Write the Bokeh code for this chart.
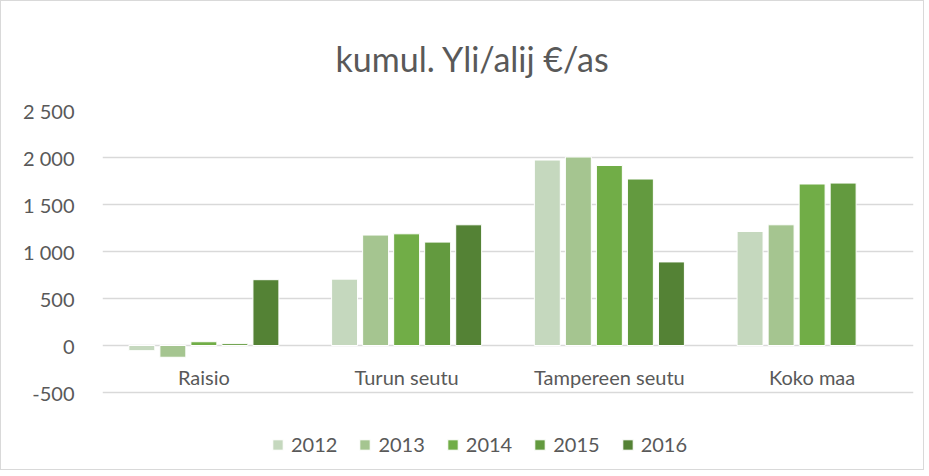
import math
from bokeh.plotting import figure
from bokeh.models import (ColumnDataSource, FactorRange, Range1d, FixedTicker,
                          Legend, LegendItem)
from bokeh.transform import dodge
from bokeh.core.properties import value
from bokeh.embed import file_html
from bokeh.resources import INLINE

categories = ["Raisio", "Turun seutu", "Tampereen seutu", "Koko maa"]
years = ["2012", "2013", "2014", "2015", "2016"]
y2012 = [-55, 706, 1973, 1213]
y2013 = [-125, 1175, 2005, 1284]
y2014 = [40, 1188, 1915, 1718]
y2015 = [20, 1100, 1771, 1728]
y2016 = [700, 1284, 889, float("nan")]
colors = ["#C5D8BE", "#A5C590", "#71AD47", "#639A3F", "#548235"]
tick_values = [-500, 0, 500, 1000, 1500, 2000, 2500]
tick_labels = ["-500", "0", "500", "1 000", "1 500", "2 000", "2 500"]
title_text = "kumul. Yli/alij €/as"

FONT = "Lato"
GREY = "#595959"

# layout: visible value span (-500..2500) occupies 282 px; the frame extends
# further down so that the legend can sit inside it
FIG_H, TOP = 470, 109
frame_h = FIG_H - TOP
y_top = tick_values[-1]
y_bottom = y_top - (tick_values[-1] - tick_values[0]) * frame_h / 282.0

source = ColumnDataSource(dict(cat=categories, y2012=y2012, y2013=y2013,
                               y2014=y2014, y2015=y2015, y2016=y2016,
                               zero=[0] * len(categories)))

p = figure(x_range=FactorRange(*categories), y_range=Range1d(y_bottom, y_top),
           width=924, height=FIG_H, output_backend="svg", toolbar_location=None,
           min_border_left=101, min_border_right=12, min_border_top=TOP,
           min_border_bottom=0)
p.styles = {"border": "1px solid #D9D9D9"}

p.title.text = title_text
p.title.align = "left"
p.title.offset = 233
p.title.standoff = 64
p.title.text_font = FONT
p.title.text_font_size = "34px"
p.title.text_font_style = "normal"
p.title.text_color = GREY

p.outline_line_color = None
p.xgrid.grid_line_color = None
p.ygrid.grid_line_color = "#D9D9D9"
p.ygrid.grid_line_width = 1.5

p.yaxis.ticker = FixedTicker(ticks=tick_values)
p.yaxis.major_label_overrides = {v: l for v, l in zip(tick_values, tick_labels)}
p.yaxis.axis_line_color = None
p.yaxis.major_tick_line_color = None
p.yaxis.minor_tick_line_color = None
p.yaxis.major_label_standoff = 22
p.yaxis.major_label_text_font = FONT
p.yaxis.major_label_text_font_size = "20px"
p.yaxis.major_label_text_color = GREY
p.xaxis.visible = False

offsets = [-0.306, -0.153, 0.0, 0.153, 0.306]
items = []
for yr, off, col in zip(years, offsets, colors):
    r = p.vbar(x=dodge("cat", off, range=p.x_range), top="y" + yr, bottom=0,
               width=0.128, source=source, fill_color=col, line_color="white",
               line_width=1)
    items.append(LegendItem(label=yr, renderers=[r]))

p.text(x="cat", y="zero", text="cat", source=source, y_offset=31,
       text_align="center", text_baseline="middle", text_font=value(FONT),
       text_font_size="20px", text_color=GREY)

legend = Legend(items=items, orientation="horizontal", location=(169, 15),
                glyph_width=13, glyph_height=13, label_standoff=7, spacing=21,
                label_text_font=FONT, label_text_font_size="20px",
                label_text_color=GREY, border_line_color=None,
                background_fill_alpha=0, margin=0, padding=0)
p.add_layout(legend, "center")

open("out.html", "w").write(file_html(p, INLINE))
